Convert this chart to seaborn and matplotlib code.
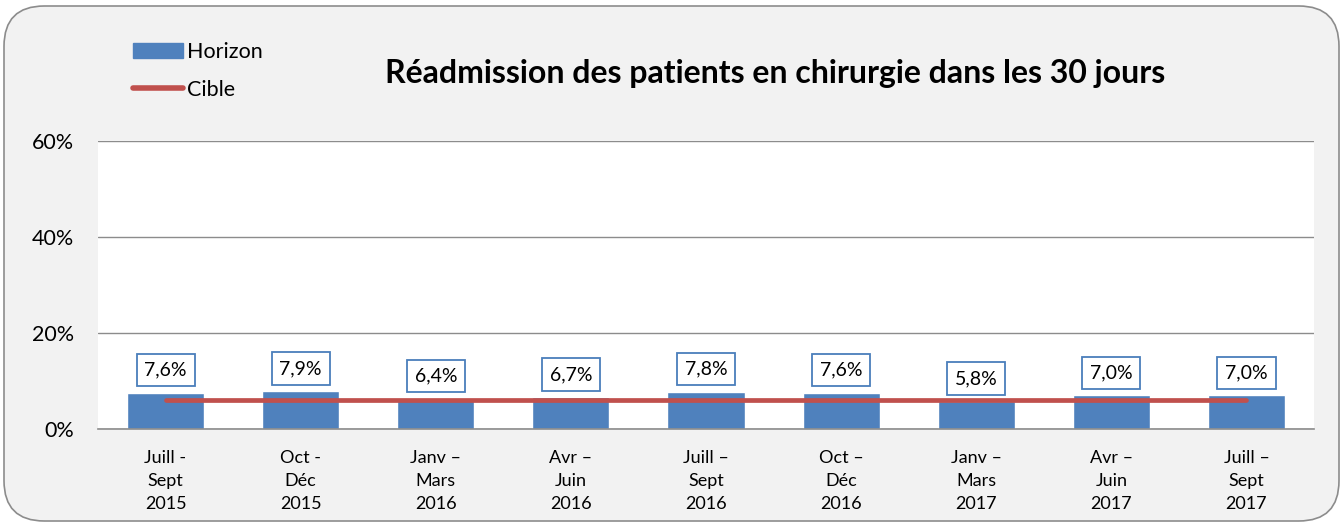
import numpy as np
import pandas as pd
import matplotlib
matplotlib.use("Agg")
import matplotlib.pyplot as plt
import seaborn as sns
from matplotlib.patches import FancyBboxPatch, Patch
from matplotlib.lines import Line2D

categories = ["Juill -\nSept\n2015", "Oct -\nDéc\n2015", "Janv –\nMars\n2016",
              "Avr –\nJuin\n2016", "Juill –\nSept\n2016", "Oct –\nDéc\n2016",
              "Janv –\nMars\n2017", "Avr –\nJuin\n2017", "Juill –\nSept\n2017"]
horizon = [7.6, 7.9, 6.4, 6.7, 7.8, 7.6, 5.8, 7.0, 7.0]
cible = [6.0, 6.0, 6.0, 6.0, 6.0, 6.0, 6.0, 6.0, 6.0]
yticks = [0, 20, 40, 60]
title = "Réadmission des patients en chirurgie dans les 30 jours"

sns.set_theme(style="white")
plt.rcParams['font.family'] = ['Lato', 'DejaVu Sans']

BG = "#f2f2f2"
BAR = "#4f81bd"
RED = "#c0504d"

fig = plt.figure(figsize=(13.43, 5.27), dpi=100)
fig.patch.set_facecolor("white")
border = FancyBboxPatch((4/1343, 6/527), 1335/1343, 515/527,
                        boxstyle="round,pad=0,rounding_size=0.03",
                        transform=fig.transFigure, fc=BG, ec="#8c8c8c", lw=1.2,
                        mutation_aspect=1343/527, zorder=-10)
fig.patches.append(border)

ax = fig.add_axes([98/1343, 1 - 429/527, (1314 - 98)/1343, (429 - 141)/527])
ax.set_zorder(1)
ax.set_facecolor("white")

df = pd.DataFrame({"cat": categories, "val": horizon})
sns.barplot(data=df, x="cat", y="val", color=BAR, width=0.57, saturation=1,
            ax=ax, zorder=2)
ax.plot(np.arange(len(cible)), cible, color=RED, lw=3.4, solid_capstyle="round", zorder=3)

for i, v in enumerate(horizon):
    ax.annotate(f"{v:.1f}%".replace(".", ","), xy=(i, v), xytext=(0, 10),
                textcoords="offset points", ha="center", va="bottom", fontsize=14,
                color="black", zorder=5,
                bbox=dict(boxstyle="square,pad=0.4", fc="white", ec="#4a7ebb", lw=1.3))

ax.set_ylim(0, 60)
ax.set_xlim(-0.5, len(categories) - 0.5)
ax.set_yticks(yticks)
ax.set_yticklabels([f"{t}%" for t in yticks], fontsize=15.5)
ax.yaxis.grid(True, color="#8c8c8c", lw=1, zorder=0)
ax.set_axisbelow(True)
for s in ["top", "right", "left"]:
    ax.spines[s].set_visible(False)
ax.spines["bottom"].set_color("#8c8c8c")
ax.spines["bottom"].set_linewidth(1.2)
ax.tick_params(axis="y", length=0, pad=17, labelcolor="black")
ax.tick_params(axis="x", length=0, pad=15, labelsize=13, labelcolor="black")
for lbl in ax.get_xticklabels():
    lbl.set_linespacing(1.55)
ax.set_xlabel("")
ax.set_ylabel("")

handles = [Patch(facecolor=BAR, edgecolor=BAR),
           Line2D([0], [0], color=RED, lw=4, solid_capstyle="round")]
fig.legend(handles, ["Horizon", "Cible"], loc="upper left",
           bbox_to_anchor=(114/1343, 1 - 23/527), frameon=False, fontsize=15.5,
           handlelength=2.3, handleheight=0.7, handletextpad=0.2, labelspacing=0.8,
           labelcolor="black")

fig.text(775/1343, 1 - 74/527, title, ha="center", va="center",
         fontsize=23, fontweight="bold", color="black")

fig.savefig("out.png", dpi=100, facecolor=fig.get_facecolor())
